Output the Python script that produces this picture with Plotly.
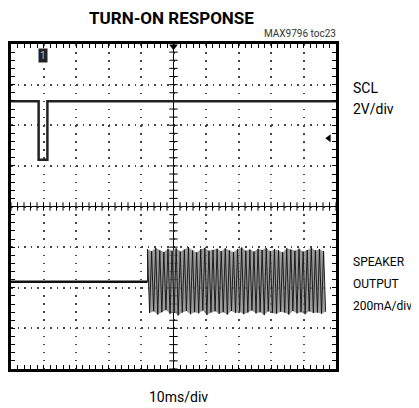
import plotly.graph_objects as go

# ---- data (scope divisions: x 0..10, y -4..4) ----
scl_t = [0.0, 0.85, 0.85, 1.12, 1.12, 10.0]
scl_v = [2.59, 2.59, 1.15, 1.15, 2.59, 2.59]

spk_base_t = [0.0, 4.20]
spk_base_v = [-1.85, -1.85]

burst_top_t = [4.200, 4.326, 4.452, 4.578, 4.704, 4.830, 4.956, 5.082, 5.208, 5.334,
               5.460, 5.586, 5.712, 5.838, 5.964, 6.090, 6.216, 6.342, 6.468, 6.594,
               6.720, 6.846, 6.972, 7.098, 7.224, 7.350, 7.476, 7.602, 7.728, 7.854,
               7.980, 8.106, 8.232, 8.358, 8.484, 8.610, 8.736, 8.862, 8.988, 9.114,
               9.240, 9.366, 9.492, 9.618]
burst_bot_t = [4.263, 4.389, 4.515, 4.641, 4.767, 4.893, 5.019, 5.145, 5.271, 5.397,
               5.523, 5.649, 5.775, 5.901, 6.027, 6.153, 6.279, 6.405, 6.531, 6.657,
               6.783, 6.909, 7.035, 7.161, 7.287, 7.413, 7.539, 7.665, 7.791, 7.917,
               8.043, 8.169, 8.295, 8.421, 8.547, 8.673, 8.799, 8.925, 9.051, 9.177,
               9.303, 9.429, 9.555, 9.681]
burst_top_v = [-1.05, -1.10, -1.02, -1.08, -1.12, -1.04, -1.09, -1.03, -1.11, -1.06,
               -1.00, -1.08, -1.13, -1.05, -1.02, -1.09, -1.07, -1.04, -1.10, -1.03,
               -1.08, -1.12, -1.05, -1.01, -1.09, -1.06, -1.11, -1.04, -1.07, -1.02,
               -1.10, -1.05, -1.08, -1.13, -1.03, -1.06, -1.09, -1.04, -1.11, -1.07,
               -1.02, -1.08, -1.05, -1.10]
burst_bot_v = [-2.62, -2.58, -2.66, -2.60, -2.55, -2.64, -2.59, -2.68, -2.61, -2.57,
               -2.65, -2.60, -2.63, -2.56, -2.67, -2.61, -2.58, -2.64, -2.60, -2.66,
               -2.57, -2.62, -2.59, -2.65, -2.61, -2.56, -2.63, -2.60, -2.67, -2.58,
               -2.62, -2.64, -2.59, -2.61, -2.66, -2.57, -2.63, -2.60, -2.65, -2.58,
               -2.62, -2.61, -2.64, -2.59]

title_text = "TURN-ON RESPONSE"
note_text = "MAX9796 toc23"
x_label = "10ms/div"
ch1_label = ["SCL", "2V/div"]
ch2_label = ["SPEAKER", "OUTPUT", "200mA/div"]

FONT = "Roboto, Liberation Sans, sans-serif"

fig = go.Figure()

# center crosshair with minor tick marks
fig.add_shape(type="line", x0=0, x1=10, y0=0, y1=0, line=dict(color="black", width=1), layer="below")
fig.add_shape(type="line", x0=5, x1=5, y0=-4, y1=4, line=dict(color="black", width=1), layer="below")
hx = [i * 0.2 for i in range(51)]
vy = [-4 + i * 0.2 for i in range(41)]
fig.add_trace(go.Scatter(x=hx, y=[0] * len(hx), mode="markers",
                         marker=dict(symbol="line-ns", size=6, line=dict(color="black", width=1)),
                         hoverinfo="skip", showlegend=False))
fig.add_trace(go.Scatter(x=[5] * len(vy), y=vy, mode="markers",
                         marker=dict(symbol="line-ew", size=6, line=dict(color="black", width=1)),
                         hoverinfo="skip", showlegend=False))

# burst envelope fill
fig.add_trace(go.Scatter(x=burst_top_t, y=burst_top_v, mode="lines", line=dict(width=0),
                         hoverinfo="skip", showlegend=False))
fig.add_trace(go.Scatter(x=burst_bot_t, y=burst_bot_v, mode="lines", line=dict(width=0),
                         fill="tonexty", fillcolor="rgba(130,130,130,0.8)",
                         hoverinfo="skip", showlegend=False))

# speaker trace
sx = list(spk_base_t)
sy = list(spk_base_v)
for a, b, c, d in zip(burst_top_t, burst_top_v, burst_bot_t, burst_bot_v):
    sx += [a, c]
    sy += [b, d]
fig.add_trace(go.Scatter(x=sx, y=sy, mode="lines", line=dict(color="#111", width=0.9),
                         hoverinfo="skip", showlegend=False))
fig.add_trace(go.Scatter(x=spk_base_t, y=spk_base_v, mode="lines", line=dict(color="#111", width=2.5),
                         hoverinfo="skip", showlegend=False))

# SCL trace
fig.add_trace(go.Scatter(x=scl_t, y=scl_v, mode="lines", line=dict(color="#222", width=2.5),
                         hoverinfo="skip", showlegend=False))

# markers: trigger, ground reference
fig.add_trace(go.Scatter(x=[5], y=[3.93], mode="markers",
                         marker=dict(symbol="triangle-down", size=7, color="black"),
                         hoverinfo="skip", showlegend=False))
fig.add_trace(go.Scatter(x=[9.78], y=[1.68], mode="markers",
                         marker=dict(symbol="triangle-left", size=7, color="black"),
                         hoverinfo="skip", showlegend=False))

axis_common = dict(showticklabels=False, showline=True, linecolor="black", linewidth=3,
                   mirror="ticks", ticks="inside", ticklen=4, tickwidth=1, tickcolor="black",
                   zeroline=False, showgrid=True, gridcolor="#444", gridwidth=1.5,
                   fixedrange=True)

fig.update_xaxes(range=[0, 10], dtick=1, tick0=0, griddash="1.5px,6.6px",
                 minor=dict(dtick=0.2, ticks="inside", ticklen=4, tickcolor="black", showgrid=False),
                 **axis_common)
fig.update_yaxes(range=[-4, 4], dtick=1, tick0=0, griddash="1.5px,5px",
                 minor=dict(dtick=0.2, ticks="inside", ticklen=4, tickcolor="black", showgrid=False),
                 **axis_common)

def pann(text, x, y, size, xanchor="center", color="black"):
    return dict(text=text, x=x, y=y, xref="paper", yref="paper", xanchor=xanchor,
                yanchor="middle", showarrow=False, font=dict(family=FONT, size=size, color=color))

ann = [
    pann("<b>" + title_text + "</b>", 0.495, 1.080, 17),
    pann(note_text, 1.006, 1.031, 10, xanchor="right", color="#333"),
    pann(x_label, 0.514, -0.086, 14),
]
for txt, yy in zip(ch1_label, [0.865, 0.800]):
    ann.append(pann(txt, 1.046, yy, 14, xanchor="left"))
for txt, yy in zip(ch2_label, [0.329, 0.262, 0.194]):
    ann.append(pann(txt, 1.046, yy, 12, xanchor="left"))
ann.append(dict(text="1", x=0.97, y=3.72, xref="x", yref="y", showarrow=False,
                bgcolor="#222", borderpad=1, font=dict(family=FONT, size=10, color="#bbb")))

fig.update_layout(width=411, height=400, margin=dict(l=3, r=83, t=36, b=39),
                  plot_bgcolor="white", paper_bgcolor="white", annotations=ann,
                  showlegend=False)

fig.write_html("out.html")
